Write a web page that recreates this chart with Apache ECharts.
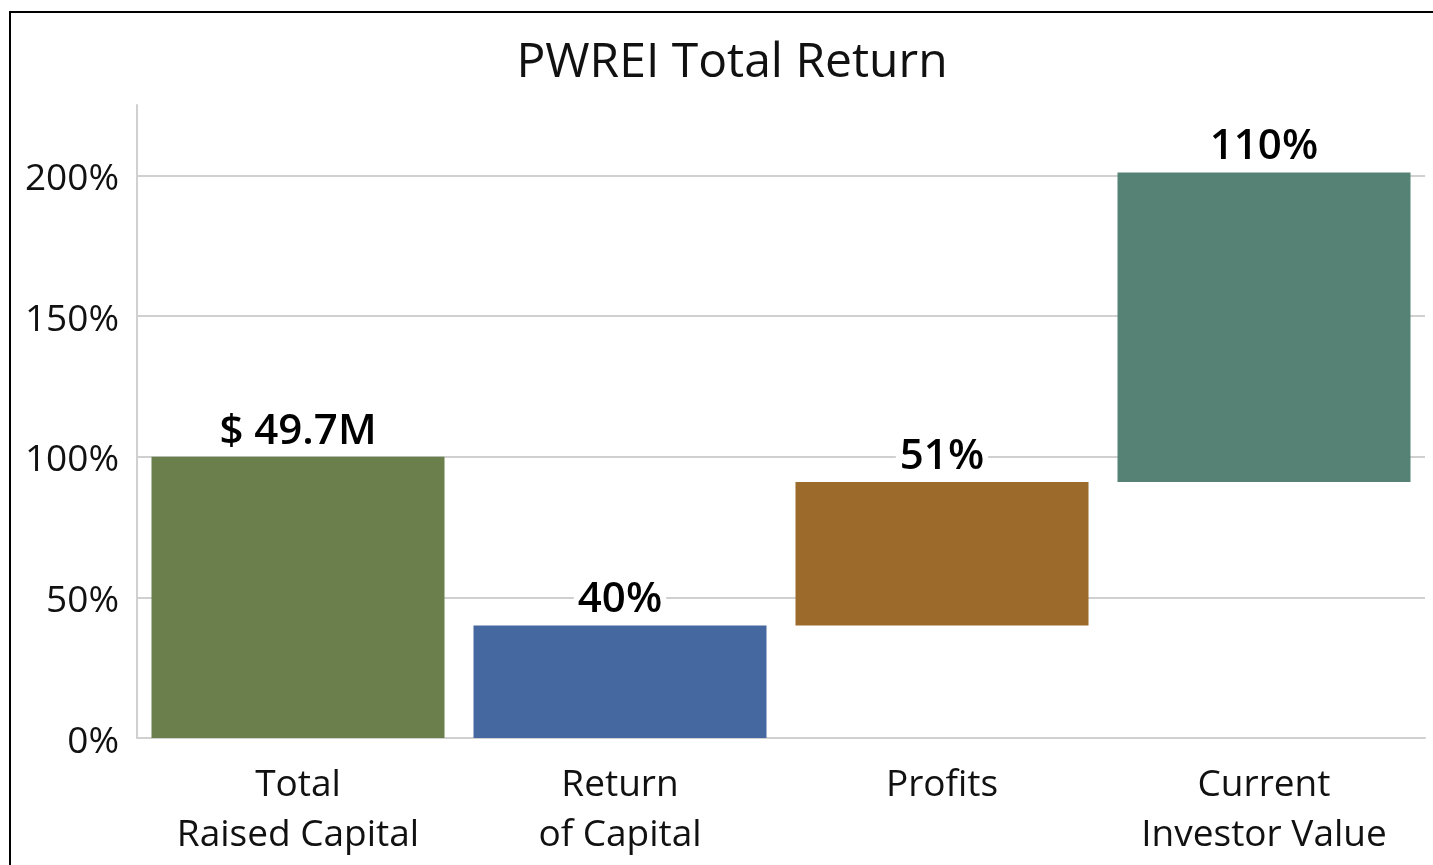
<!DOCTYPE html>
<html>
<head>
<meta charset="utf-8">
<script src="https://cdn.jsdelivr.net/npm/echarts@6/dist/echarts.min.js"></script>
<style>
  html, body { margin: 0; padding: 0; background: #fff; }
  #myChart { width: 1433px; height: 865px; }
</style>
</head>
<body>
<div id="myChart"></div>
<script>
// 数据
const categories = ['Total\nRaised Capital', 'Return\nof Capital', 'Profits', 'Current\nInvestor Value'];
const baseValues = [0, 0, 40, 91];      // invisible offset of each step
const stepValues = [100, 40, 51, 110];  // visible bar height (%)
const barLabels = ['$ 49.7M', '40%', '51%', '110%'];
const barColors = ['#6a7f4c', '#4668a0', '#9c6a2b', '#568276'];
const yTicks = [0, 50, 100, 150, 200];

const font = '"Open Sans", "Noto Sans", sans-serif';

let myChart = echarts.init(document.getElementById('myChart'));
myChart.setOption({
  animation: false,
  title: {
    text: 'PWREI Total Return',
    left: 727, top: 34,
    textAlign: 'center',
    textStyle: { fontFamily: font, fontSize: 48, fontWeight: 500, color: '#111' }
  },
  graphic: [{
    type: 'rect',
    shape: { x: 10, y: 12, width: 1440, height: 880 },
    style: { fill: 'none', stroke: '#000', lineWidth: 2 },
    silent: true
  }],
  grid: { left: 137, right: 8, top: 105, bottom: 127 },
  xAxis: {
    type: 'category',
    data: categories,
    axisLine: { lineStyle: { color: '#d0d0d0', width: 2 } },
    axisTick: { show: false },
    axisLabel: {
      fontFamily: font, fontSize: 37, color: '#111',
      lineHeight: 50, margin: 22, interval: 0
    }
  },
  yAxis: {
    type: 'value',
    min: 0, max: 225, interval: 50,
    axisLine: { show: true, lineStyle: { color: '#d0d0d0', width: 2 } },
    axisTick: { show: false },
    splitLine: { showMaxLine: false, lineStyle: { color: '#d0d0d0', width: 2 } },
    axisLabel: {
      margin: 18,
      showMaxLabel: false,
      formatter: function (v) { return yTicks.indexOf(v) >= 0 ? '{t|' + v + '%}' : ''; },
      rich: {
        t: { fontFamily: font, fontSize: 37, color: '#111', padding: [8, 0, 0, 0] }
      }
    }
  },
  series: [
    {
      type: 'bar', stack: 'w', silent: true,
      itemStyle: { color: 'transparent' },
      data: baseValues,
      barCategoryGap: '9%'
    },
    {
      type: 'bar', stack: 'w',
      data: stepValues.map(function (v, i) {
        return { value: v, itemStyle: { color: barColors[i] } };
      }),
      barCategoryGap: '9%',
      label: {
        show: true, position: 'top', distance: 4,
        formatter: function (p) { return barLabels[p.dataIndex]; },
        fontFamily: font, fontSize: 42, fontWeight: 600, color: '#000',
        backgroundColor: '#fff', padding: [0, 4]
      }
    }
  ]
});
</script>
</body>
</html>
